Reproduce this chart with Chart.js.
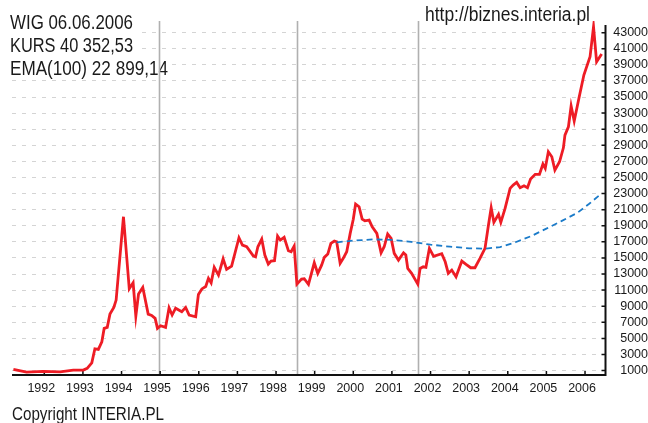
<!DOCTYPE html>
<html>
<head>
<meta charset="utf-8">
<script src="https://cdn.jsdelivr.net/npm/chart.js@4"></script>
<style>
  html, body { margin: 0; padding: 0; background: #fff; }
</style>
</head>
<body>
<canvas id="wig-chart" width="648" height="423"></canvas>
<script>
// WIG index (decimal year, points)
const wigDates = [
  1991.20, 1991.54, 1991.97, 1992.41, 1992.75, 1993.01, 1993.11, 1993.23, 1993.31, 1993.40,
  1993.49, 1993.55, 1993.63, 1993.70, 1993.80, 1993.86, 1994.05, 1994.20, 1994.30, 1994.37,
  1994.44, 1994.55, 1994.69, 1994.78, 1994.87, 1994.93, 1995.01, 1995.14, 1995.23, 1995.31,
  1995.40, 1995.56, 1995.66, 1995.75, 1995.92, 1995.99, 1996.08, 1996.18, 1996.25, 1996.32,
  1996.40, 1996.51, 1996.63, 1996.72, 1996.85, 1997.04, 1997.13, 1997.24, 1997.41, 1997.47,
  1997.53, 1997.63, 1997.71, 1997.80, 1997.87, 1997.96, 1998.04, 1998.11, 1998.21, 1998.32,
  1998.39, 1998.47, 1998.54, 1998.66, 1998.73, 1998.84, 1998.99, 1999.08, 1999.18, 1999.25,
  1999.34, 1999.42, 1999.51, 1999.57, 1999.66, 1999.74, 1999.83, 1999.92, 2000.00, 2000.06,
  2000.15, 2000.23, 2000.30, 2000.41, 2000.49, 2000.61, 2000.72, 2000.80, 2000.89, 2000.98,
  2001.06, 2001.17, 2001.30, 2001.36, 2001.41, 2001.51, 2001.67, 2001.73, 2001.81, 2001.88,
  2001.97, 2002.08, 2002.29, 2002.38, 2002.46, 2002.55, 2002.66, 2002.81, 2002.92, 2003.04,
  2003.15, 2003.28, 2003.41, 2003.50, 2003.57, 2003.64, 2003.76, 2003.82, 2003.93, 2004.06,
  2004.14, 2004.23, 2004.32, 2004.42, 2004.51, 2004.59, 2004.71, 2004.82, 2004.91, 2004.97,
  2005.05, 2005.14, 2005.22, 2005.34, 2005.44, 2005.48, 2005.57, 2005.64, 2005.72, 2005.85,
  2005.97, 2006.13, 2006.22, 2006.30, 2006.43
];
const wigValues = [
  1150, 810, 900, 850, 1060, 1060, 1270, 1970, 3710, 3630,
  4580, 6240, 6370, 8020, 8850, 9760, 20120, 11170, 11910, 7770,
  10510, 11340, 8020, 7860, 7490, 6240, 6570, 6370, 8800, 7900,
  8750, 8310, 8850, 7900, 7690, 10450, 11150, 11450, 12460, 11900,
  13830, 12870, 14900, 13580, 13990, 17510, 16600, 16390, 15270, 15150,
  16390, 17350, 15360, 14240, 14610, 14650, 17720, 17220, 17560, 15890,
  15770, 16480, 11750, 12370, 12410, 11710, 14400, 13080, 14110, 15070,
  15480, 16810, 17100, 17010, 14330, 14950, 15770, 18050, 19800, 21700,
  21360, 19830, 19620, 19710, 18870, 18050, 15640, 16390, 17970, 17430,
  15570, 14730, 15640, 15360, 13700, 13080, 11750, 13700, 13900, 13830,
  16190, 15200, 15520, 14520, 13080, 13490, 12660, 14610, 14200, 13780,
  13780, 14950, 16190, 19090, 21240, 19420, 20420, 19420, 21160, 23650,
  24060, 24390, 23720, 23970, 23720, 24800, 25390, 25390, 26670, 26130,
  28200, 27580, 25920, 26950, 28690, 30270, 31300, 33880, 32010, 35030,
  37730, 40000, 43730, 39380, 40340
];

// EMA(100)
const emaDates = [
  1999.57, 2000.00, 2000.50, 2001.00, 2001.50, 2002.00, 2002.50, 2003.00, 2003.40,
  2003.80, 2004.20, 2004.60, 2005.00, 2005.40, 2005.80, 2006.10, 2006.40
];
const emaValues = [
  16940, 17150, 17300, 17250, 17000, 16650, 16400, 16200, 16150,
  16350, 16950, 17700, 18650, 19600, 20600, 21700, 22899
];

// axis ticks and marker lines
const years = [1992, 1993, 1994, 1995, 1996, 1997, 1998, 1999, 2000, 2001, 2002, 2003, 2004, 2005, 2006];
const yTicks = [1000, 3000, 5000, 7000, 9000, 11000, 13000, 15000, 17000, 19000, 21000,
  23000, 25000, 27000, 29000, 31000, 33000, 35000, 37000, 39000, 41000, 43000];
const eventDates = [1994.96, 1998.535, 2001.685];

const infoLines = ['WIG 06.06.2006', 'KURS 40 352,53', 'EMA(100) 22 899,14'];
const siteText = 'http://biznes.interia.pl';
const copyText = 'Copyright INTERIA.PL';

// the original uses a narrow font, so squeeze Liberation Sans to the width seen
function narrowText(ctx, text, x, base, width) {
  const w = ctx.measureText(text).width;
  ctx.save();
  ctx.translate(x, base);
  ctx.scale(width / w, 1);
  ctx.fillText(text, 0, 0);
  ctx.restore();
}

const decor = {
  id: 'decor',
  beforeDatasetsDraw(chart) {
    const { ctx, chartArea: a, scales: { x, y } } = chart;
    ctx.save();

    // info text, white box behind each line
    ctx.font = '20px "Liberation Sans", sans-serif';
    ctx.textBaseline = 'alphabetic';
    ctx.textAlign = 'left';
    const widths = [123, 123, 158];
    infoLines.forEach((t, i) => {
      const base = 29 + i * 23;
      ctx.fillStyle = '#fff';
      ctx.fillRect(8, base - 17, widths[i] + 6, 22);
      ctx.fillStyle = '#1a1a1a';
      narrowText(ctx, t, 10, base, widths[i]);
    });

    // vertical marker lines
    ctx.strokeStyle = '#b0b0b0';
    ctx.lineWidth = 1.6;
    eventDates.forEach(d => {
      const px = Math.round(x.getPixelForValue(d)) + 0.5;
      ctx.beginPath();
      ctx.moveTo(px, a.top);
      ctx.lineTo(px, a.bottom);
      ctx.stroke();
    });

    // axes
    ctx.strokeStyle = '#111';
    ctx.lineWidth = 2;
    ctx.beginPath();
    ctx.moveTo(a.left, a.bottom);
    ctx.lineTo(a.right, a.bottom);
    ctx.moveTo(a.right, a.top + 4);
    ctx.lineTo(a.right, a.bottom + 1);
    ctx.stroke();

    ctx.lineWidth = 1.5;
    ctx.beginPath();
    years.forEach(v => {
      const px = x.getPixelForValue(v);
      ctx.moveTo(px, a.bottom);
      ctx.lineTo(px, a.bottom - 4);
    });
    yTicks.forEach(v => {
      const py = y.getPixelForValue(v);
      ctx.moveTo(a.right, py);
      ctx.lineTo(a.right - 4, py);
    });
    ctx.stroke();
    ctx.restore();
  },
  afterDraw(chart) {
    const { ctx } = chart;
    ctx.save();
    ctx.fillStyle = '#1a1a1a';
    ctx.textAlign = 'left';
    ctx.font = '20px "Liberation Sans", sans-serif';
    narrowText(ctx, siteText, 425, 21, 165);
    ctx.font = '19px "Liberation Sans", sans-serif';
    narrowText(ctx, copyText, 12, 420, 152);
    ctx.restore();
  }
};

const ctx = document.getElementById('wig-chart');

new Chart(ctx, {
  type: 'line',
  data: {
    datasets: [
      {
        label: 'EMA(100)',
        data: emaDates.map((d, i) => ({ x: d, y: emaValues[i] })),
        borderColor: '#1b7bc9',
        borderWidth: 1.8,
        borderDash: [6, 4],
        pointRadius: 0,
        order: 1
      },
      {
        label: 'WIG',
        data: wigDates.map((d, i) => ({ x: d, y: wigValues[i] })),
        borderColor: '#ee1c25',
        borderWidth: 2.8,
        pointRadius: 0,
        tension: 0,
        order: 2
      }
    ]
  },
  options: {
    responsive: false,
    animation: false,
    layout: { padding: { left: 12, top: 21, right: 0, bottom: 0 } },
    plugins: {
      legend: { display: false },
      tooltip: { enabled: false }
    },
    scales: {
      x: {
        type: 'linear',
        min: 1991.164,
        max: 2006.53,
        afterBuildTicks: s => { s.ticks = years.map(v => ({ value: v })); },
        afterFit: s => { s.height = 48; },
        grid: { display: false, drawTicks: false },
        border: { display: false },
        ticks: {
          padding: 6,
          labelOffset: -3,
          maxRotation: 0,
          autoSkip: false,
          color: '#1a1a1a',
          font: { family: 'Liberation Sans', size: 12.5 },
          callback: v => String(v)
        }
      },
      y: {
        position: 'right',
        min: 450,
        max: 44450,
        afterBuildTicks: s => { s.ticks = yTicks.map(v => ({ value: v })); },
        afterFit: s => { s.width = 42.5; },
        grid: { color: '#d4d4d4', drawTicks: false },
        border: { display: false, dash: [4, 6] },
        ticks: {
          padding: 4,
          autoSkip: false,
          crossAlign: 'far',
          color: '#1a1a1a',
          font: { family: 'Liberation Sans', size: 12.5 },
          callback: v => String(v)
        }
      }
    }
  },
  plugins: [decor]
});
</script>
</body>
</html>
